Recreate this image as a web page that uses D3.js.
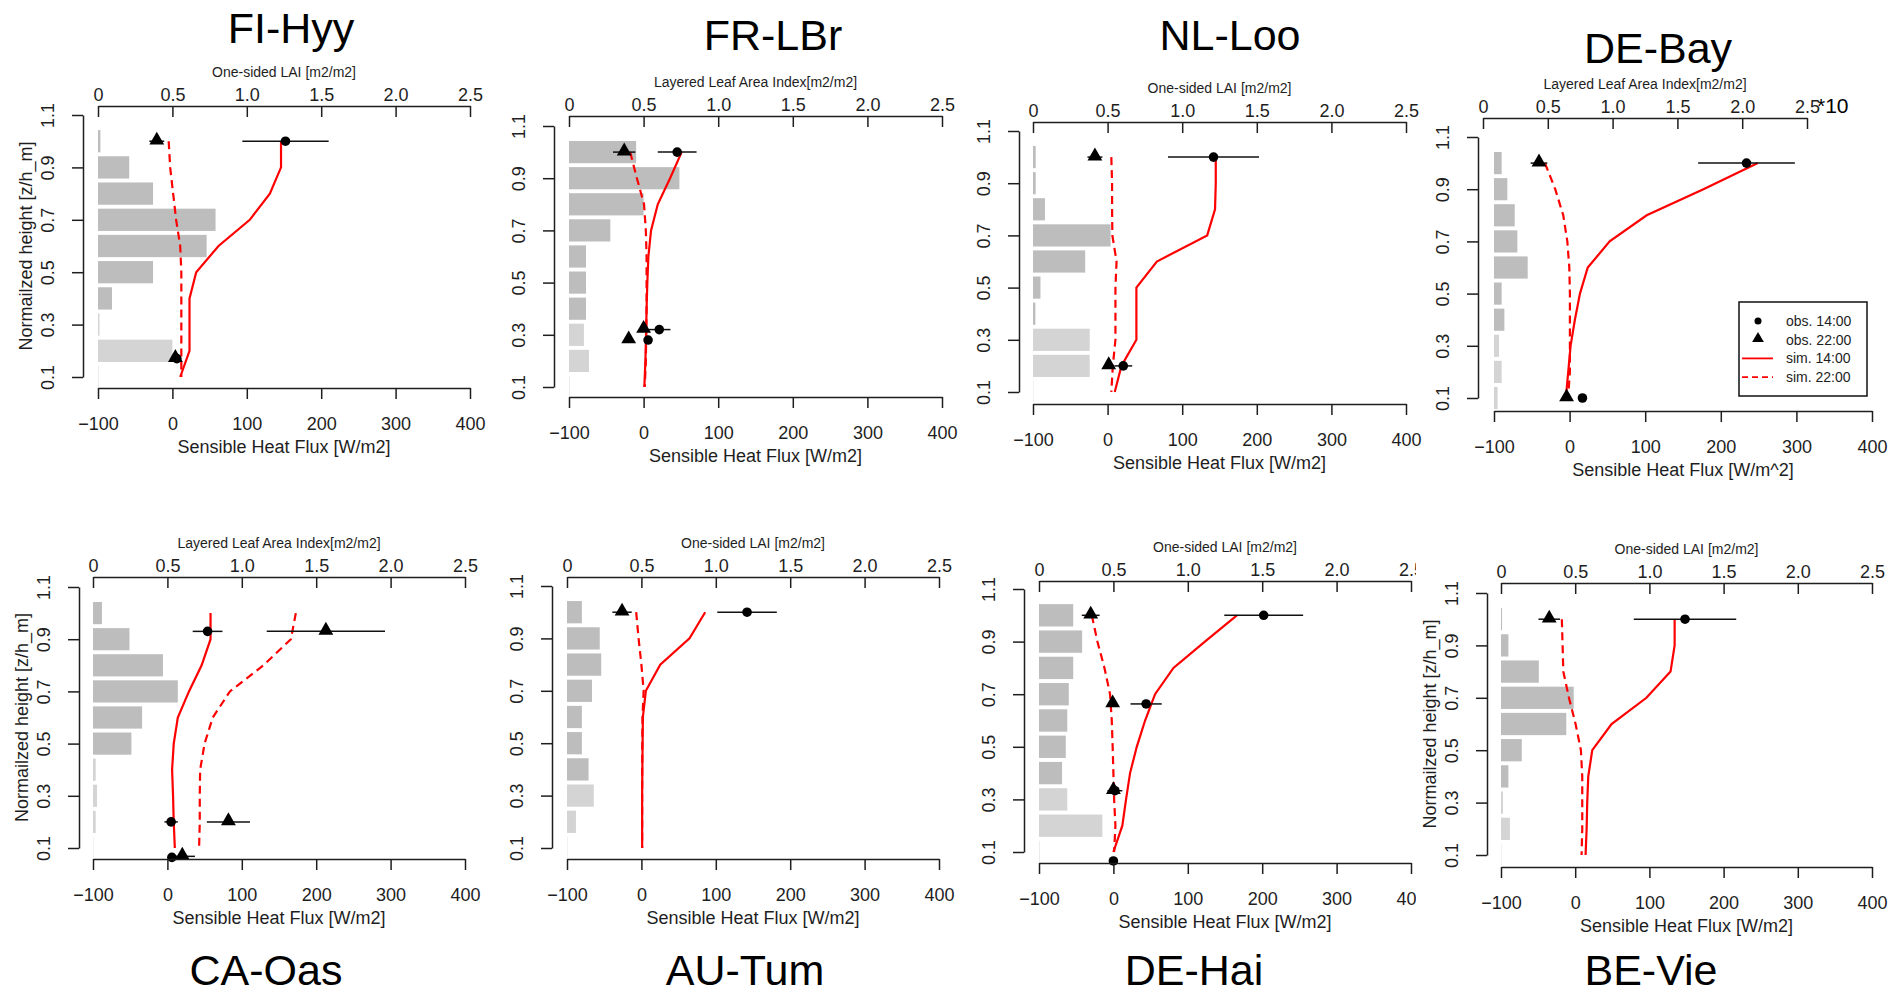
<!DOCTYPE html>
<head>
  <meta charset="utf-8">
  <title>Sensible heat flux profiles</title>
  <script src="https://d3js.org/d3.v7.min.js"></script>
  <style>
    body { margin:0; background:#fff; }
    svg { display:block; font-family:"Liberation Sans", Arial, sans-serif; }
  </style>
</head>

<body>
  <svg width="1893" height="996"></svg>
  <script>
    // ---- data ----
    var sites = ['FI-Hyy', 'FR-LBr', 'NL-Loo', 'DE-Bay', 'CA-Oas', 'AU-Tum', 'DE-Hai', 'BE-Vie'];
    var laiTitles = ['One-sided LAI [m2/m2]', 'Layered Leaf Area Index[m2/m2]', 'One-sided LAI [m2/m2]',
      'Layered Leaf Area Index[m2/m2]', 'Layered Leaf Area Index[m2/m2]', 'One-sided LAI [m2/m2]',
      'One-sided LAI [m2/m2]', 'One-sided LAI [m2/m2]'];
    var fluxTitles = ['Sensible Heat Flux [W/m2]', 'Sensible Heat Flux [W/m2]', 'Sensible Heat Flux [W/m2]',
      'Sensible Heat Flux [W/m^2]', 'Sensible Heat Flux [W/m2]', 'Sensible Heat Flux [W/m2]',
      'Sensible Heat Flux [W/m2]', 'Sensible Heat Flux [W/m2]'];
    var heights = [1.0, 0.9, 0.8, 0.7, 0.6, 0.5, 0.4, 0.3, 0.2, 0.1];
    var heightTicks = [0.1, 0.3, 0.5, 0.7, 0.9, 1.1];
    var fluxTicks = [-100, 0, 100, 200, 300, 400];
    var laiTicks = [0, 0.5, 1.0, 1.5, 2.0, 2.5];

    // leaf area per layer, one row per site (top layer first)
    var laiProfile = [
      [0.016, 0.21, 0.37, 0.79, 0.73, 0.37, 0.094, 0.01, 0.50, 0.003],
      [0.45, 0.74, 0.50, 0.277, 0.114, 0.114, 0.114, 0.10, 0.134, 0.003],
      [0.018, 0.018, 0.08, 0.52, 0.35, 0.05, 0.016, 0.38, 0.38, 0.002],
      [0.059, 0.103, 0.16, 0.18, 0.26, 0.059, 0.08, 0.039, 0.059, 0.028],
      [0.06, 0.245, 0.47, 0.57, 0.33, 0.258, 0.018, 0.027, 0.018, 0.002],
      [0.10, 0.22, 0.23, 0.168, 0.10, 0.10, 0.145, 0.18, 0.06, 0.002],
      [0.23, 0.29, 0.23, 0.20, 0.19, 0.18, 0.155, 0.19, 0.426, 0.003],
      [0.007, 0.05, 0.255, 0.49, 0.44, 0.14, 0.05, 0.013, 0.06, 0.002]
    ];
    // layers at or below this height are understory (lighter bars)
    var understoryTop = [0.3, 0.3, 0.3, 0.3, 0.4, 0.3, 0.3, 0.3];

    // simulated flux at each height
    var sim14 = [
      [146, 146, 131, 104, 62, 32, 23, 23, 23, 10.5],
      [51, 35.5, 19, 10, 6.4, 5, 4, 3.3, 2.4, 1],
      [145, 145, 144, 133.5, 66, 38.6, 38.6, 38.6, 18.5, 9.6],
      [249, 177, 102, 53, 24, 13.7, 7, 1.3, -1.8, -5],
      [58, 58, 46, 29, 14, 8.5, 6.3, 7.6, 8.5, 10],
      [85.7, 64.7, 25.3, 6, 2, 1.6, 1.3, 1, 1, 1],
      [166, 123, 80.7, 56, 42.6, 31.4, 22.4, 17, 12, 0],
      [134, 134, 128.5, 96, 49, 23, 17.6, 16.2, 15.4, 14]
    ];
    var sim22 = [
      [-5, -3, 1, 5, 10.5, 12, 12, 12, 12, 12],
      [-18, -9, 0.6, 3, 4, 4, 4, 3.5, 3, 1.5],
      [5, 6, 6, 6.4, 12, 10.5, 10.5, 10.5, 7, 5],
      [-32.6, -19, -8.4, -3, -0.4, 0.4, 0.4, 0.4, 0.4, -2],
      [172.6, 166, 129, 84, 61, 50, 44, 43.5, 43.5, 42.6],
      [-7, -3.8, 0, 3, 1.5, 1.2, 1, 1, 1, 1],
      [-29, -21.5, -12, -4.5, -2.2, -1, 0, 1, 2.7, 1],
      [-18, -17, -16, -8.4, 0.5, 7.7, 9.5, 9.5, 9.5, 8.6]
    ];
    // observations: [flux, height, half error]
    var obs14 = [
      [[152, 1.0, 58], [6, 0.17, 3]],
      [[45, 1.0, 26], [21, 0.32, 15], [6, 0.28, 3]],
      [[142, 1.0, 61], [21, 0.2, 12]],
      [[234, 1.0, 64], [17, 0.1, 0]],
      [[54, 0.93, 20], [5, 0.2, 9], [6, 0.064, 5]],
      [[142, 1.0, 40]],
      [[202, 1.0, 53], [44, 0.663, 21], [2, 0.333, 10], [0, 0.066, 3]],
      [[148, 1.0, 69]]
    ];
    var obs22 = [
      [[-21, 1.0, 10], [4, 0.17, 4]],
      [[-26, 1.0, 15], [0, 0.32, 6], [-20, 0.28, 3]],
      [[-17, 1.0, 10], [1.5, 0.2, 4]],
      [[-40.5, 1.0, 11], [-4, 0.1, 0]],
      [[213, 0.93, 79.5], [82, 0.2, 29], [20, 0.068, 17]],
      [[-26, 1.0, 13]],
      [[-30.5, 1.0, 12], [-1, 0.663, 4], [0, 0.333, 6]],
      [[-35, 1.0, 14.5]]
    ];
    var legendLabels = ['obs. 14:00', 'obs. 22:00', 'sim. 14:00', 'sim. 22:00'];

    // ---- layout of the pasted panels ----
    var frames = [
      {x0: 98, x1: 470, top: 106, bot: 388, left: 83, y11: 115, y01: 377, tx: 291, ty: 43, ytitle: true},
      {x0: 569, x1: 942, top: 116, bot: 397, left: 554, y11: 126, y01: 387, tx: 773, ty: 50},
      {x0: 1033, x1: 1406, top: 122, bot: 404, left: 1019, y11: 131, y01: 392, tx: 1230, ty: 50},
      {x0: 1494, x1: 1872, tx0: 1483, tx1: 1807, top: 118, bot: 411, left: 1478, y11: 137, y01: 398, tx: 1658, ty: 63, legend: true, times10: true},
      {x0: 93, x1: 465, top: 577, bot: 859, left: 79, y11: 587, y01: 848, tx: 266, ty: 985, ytitle: true},
      {x0: 567, x1: 939, top: 577, bot: 859, left: 552, y11: 586, y01: 848, tx: 745, ty: 985},
      {x0: 1039, x1: 1411, top: 581, bot: 863, left: 1024, y11: 589, y01: 852, tx: 1194, ty: 985, clip: 1416},
      {x0: 1501, x1: 1872, top: 583, bot: 867, left: 1487, y11: 593, y01: 855, tx: 1651, ty: 985, ytitle: true}
    ];

    var ink = '#1e1e1e';
    var svg = d3.select('svg');
    svg.append('rect').attr('width', 1893).attr('height', 996).attr('fill', '#fff');
    var defs = svg.append('defs');

    function styleAxis(a) {
      a.attr('font-family', null).attr('font-size', null);
      a.selectAll('path, line').attr('stroke', ink).attr('stroke-width', 1.5);
      a.selectAll('text').attr('fill', ink).style('font-size', '18px');
    }

    sites.forEach(function(site, i) {
      var f = frames[i];
      var g = svg.append('g');
      if (f.clip) {
        defs.append('clipPath').attr('id', 'clip' + i)
          .append('rect').attr('x', 0).attr('y', 0).attr('width', f.clip).attr('height', 996);
        g.attr('clip-path', 'url(#clip' + i + ')');
      }

      var x = d3.scaleLinear().domain([-100, 400]).range([f.x0, f.x1]);
      var xl = d3.scaleLinear().domain([0, 2.5]).range([f.tx0 || f.x0, f.tx1 || f.x1]);
      var y = d3.scaleLinear().domain([0.1, 1.1]).range([f.y01, f.y11]);
      var band = y(0.1) - y(0.185);

      // LAI bars
      var layers = heights.map(function(h, k) { return {h: h, v: laiProfile[i][k]}; });
      g.selectAll('rect.lai').data(layers).enter().append('rect')
        .attr('class', 'lai')
        .attr('x', x(-100))
        .attr('y', d => y(d.h) - band / 2)
        .attr('width', d => xl(d.v) - xl(0))
        .attr('height', band)
        .attr('fill', d => d.h <= understoryTop[i] + 1e-9 ? '#d4d4d4' : '#bdbdbd');

      // simulated profiles
      var line = d3.line().x(d => x(d[0])).y(d => y(d[1]));
      g.append('path')
        .datum(heights.map((h, k) => [sim22[i][k], h]))
        .attr('d', line).attr('fill', 'none').attr('stroke', '#ff0000')
        .attr('stroke-width', 2.2).attr('stroke-dasharray', '8,5');
      g.append('path')
        .datum(heights.map((h, k) => [sim14[i][k], h]))
        .attr('d', line).attr('fill', 'none').attr('stroke', '#ff0000')
        .attr('stroke-width', 2.2);

      // observations with error bars
      var allObs = obs14[i].concat(obs22[i]);
      g.selectAll('line.err').data(allObs).enter().append('line')
        .attr('x1', d => x(d[0] - d[2])).attr('x2', d => x(d[0] + d[2]))
        .attr('y1', d => y(d[1])).attr('y2', d => y(d[1]))
        .attr('stroke', '#111').attr('stroke-width', 1.5);
      g.selectAll('circle.o14').data(obs14[i]).enter().append('circle')
        .attr('cx', d => x(d[0])).attr('cy', d => y(d[1])).attr('r', 4.8).attr('fill', '#000');
      g.selectAll('path.o22').data(obs22[i]).enter().append('path')
        .attr('d', d3.symbol(d3.symbolTriangle, 95))
        .attr('transform', d => 'translate(' + x(d[0]) + ',' + (y(d[1]) - 1) + ')')
        .attr('fill', '#000');

      // axes
      var bottom = g.append('g').attr('transform', 'translate(0,' + f.bot + ')')
        .call(d3.axisBottom(x).tickValues(fluxTicks).tickFormat(d3.format('d'))
          .tickSize(11).tickSizeOuter(0).tickPadding(18));
      styleAxis(bottom);

      var top = g.append('g').attr('transform', 'translate(0,' + f.top + ')')
        .call(d3.axisTop(xl).tickValues(laiTicks).tickFormat(d => d === 0 ? '0' : d3.format('.1f')(d))
          .tickSize(-11).tickSizeOuter(0).tickPadding(5));
      styleAxis(top);

      var left = g.append('g').attr('transform', 'translate(' + f.left + ',0)')
        .call(d3.axisLeft(y).tickValues(heightTicks).tickFormat(d3.format('.1f'))
          .tickSize(11).tickSizeOuter(0));
      styleAxis(left);
      left.selectAll('text')
        .attr('x', null).attr('dy', '0.35em').attr('text-anchor', 'middle')
        .attr('transform', 'translate(-35,0) rotate(-90)');

      // labels
      var xm = (f.x0 + f.x1) / 2;
      var xlm = ((f.tx0 || f.x0) + (f.tx1 || f.x1)) / 2;
      g.append('text').attr('x', xm).attr('y', f.bot + 59).attr('dy', '0.35em')
        .attr('text-anchor', 'middle').attr('fill', ink).style('font-size', '18px')
        .text(fluxTitles[i]);
      g.append('text').attr('x', xlm).attr('y', f.top - 34).attr('dy', '0.35em')
        .attr('text-anchor', 'middle').attr('fill', ink).style('font-size', '14px')
        .text(laiTitles[i]);
      if (f.ytitle) {
        g.append('text')
          .attr('transform', 'translate(' + (f.left - 57) + ',' + (f.y01 + f.y11) / 2 + ') rotate(-90)')
          .attr('dy', '0.35em').attr('text-anchor', 'middle').attr('fill', ink)
          .style('font-size', '18px').text('Normailzed height [z/h_m]');
      }
      if (f.times10) {
        g.append('text').attr('x', xl(2.5) + 10).attr('y', f.top - 5)
          .attr('fill', '#000').style('font-size', '21px').text('*10');
      }
      g.append('text').attr('x', f.tx).attr('y', f.ty)
        .attr('text-anchor', 'middle').attr('fill', '#000').style('font-size', '43px')
        .text(site);

      // legend
      if (f.legend) {
        var lg = g.append('g').attr('transform', 'translate(1739,302)');
        lg.append('rect').attr('width', 128).attr('height', 94)
          .attr('fill', '#fff').attr('stroke', '#111').attr('stroke-width', 1.5);
        var rows = lg.selectAll('g.row').data(legendLabels).enter().append('g')
          .attr('transform', (d, k) => 'translate(0,' + (19 + k * 18.7) + ')');
        rows.append('text').attr('x', 47).attr('dy', '0.35em').attr('fill', ink)
          .style('font-size', '14px').text(d => d);
        rows.filter((d, k) => k === 0).append('circle').attr('cx', 19).attr('r', 3.5).attr('fill', '#000');
        rows.filter((d, k) => k === 1).append('path')
          .attr('d', d3.symbol(d3.symbolTriangle, 60)).attr('transform', 'translate(19,-1)').attr('fill', '#000');
        rows.filter((d, k) => k >= 2).append('line')
          .attr('x1', 3).attr('x2', 34).attr('stroke', '#ff0000').attr('stroke-width', 1.8)
          .attr('stroke-dasharray', (d, k) => k === 1 ? '6,4' : null);
      }
    });
  </script>
</body>
